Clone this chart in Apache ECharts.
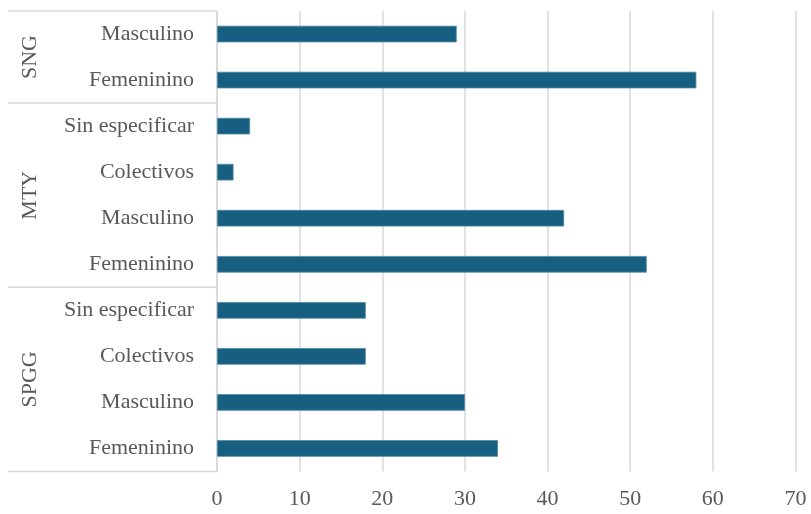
<!DOCTYPE html>
<html>
<head>
<meta charset="utf-8">
<script src="https://cdn.jsdelivr.net/npm/echarts@6/dist/echarts.min.js"></script>
<style>
html,body{margin:0;padding:0;background:#fff;}
#chart{width:811px;height:514px;}
</style>
</head>
<body>
<div id="chart"></div>
<script>
// Data (top to bottom)
const groups = ['SNG', 'MTY', 'SPGG'];
const groupCounts = [2, 4, 4];
const categories = [
  'Masculino', 'Femenino',
  'Sin especificar', 'Colectivos', 'Masculino', 'Femenino',
  'Sin especificar', 'Colectivos', 'Masculino', 'Femenino'
];
const categoryLabels = [
  'Masculino', 'Femeninino',
  'Sin especificar', 'Colectivos', 'Masculino', 'Femeninino',
  'Sin especificar', 'Colectivos', 'Masculino', 'Femeninino'
];
const values = [29, 58, 4, 2, 42, 52, 18, 18, 30, 34];
const xTicks = [0, 10, 20, 30, 40, 50, 60, 70];

const FONT = '"Liberation Serif", "DejaVu Serif", serif';
const TXT = '#595959';
const GRID = '#d9d9d9';

const chart = echarts.init(document.getElementById('chart'), null, {renderer: 'canvas'});
const catIdx = categories.map((c, i) => String(i));

chart.setOption({
  animation: false,
  backgroundColor: '#fff',
  grid: {left: 217, right: 15.5, top: 11, bottom: 42.5, containLabel: false},
  xAxis: {
    type: 'value', min: xTicks[0], max: xTicks[xTicks.length - 1], interval: 10,
    axisLine: {show: false}, axisTick: {show: false},
    splitLine: {show: true, lineStyle: {color: GRID, width: 1.5}},
    axisLabel: {color: TXT, fontFamily: FONT, fontSize: 22, margin: 17}
  },
  yAxis: {
    type: 'category', inverse: true, data: catIdx,
    axisLine: {show: true, lineStyle: {color: GRID, width: 1.5}},
    axisTick: {show: false},
    axisLabel: {
      color: TXT, fontFamily: FONT, fontSize: 22, margin: 23,
      formatter: v => categoryLabels[+v]
    }
  },
  series: [{
    type: 'bar', data: values, barWidth: '36%',
    itemStyle: {color: '#175f80', borderColor: '#4f87a3', borderWidth: 0.8}
  }]
});

// group labels and separators, positioned through the category axis scale
function drawGroups() {
  const p0 = chart.convertToPixel({yAxisIndex: 0}, '0');
  const p1 = chart.convertToPixel({yAxisIndex: 0}, '1');
  const band = p1 - p0;
  const xAxisLeft = chart.convertToPixel({xAxisIndex: 0}, 0);
  const elements = [];
  let start = 0;
  const boundaries = [p0 - band / 2];
  groups.forEach((g, gi) => {
    const n = groupCounts[gi];
    const top = chart.convertToPixel({yAxisIndex: 0}, String(start)) - band / 2;
    const bottom = chart.convertToPixel({yAxisIndex: 0}, String(start + n - 1)) + band / 2;
    boundaries.push(bottom);
    elements.push({
      type: 'text',
      x: 30, y: (top + bottom) / 2,
      rotation: Math.PI / 2,
      style: {
        text: g, fill: TXT, font: '22px ' + FONT,
        textAlign: 'center', textVerticalAlign: 'middle'
      }
    });
    start += n;
  });
  boundaries.forEach(y => {
    elements.push({
      type: 'line',
      shape: {x1: 8, y1: y, x2: xAxisLeft, y2: y},
      style: {stroke: GRID, lineWidth: 1.5}
    });
  });
  chart.setOption({graphic: elements});
}
drawGroups();
</script>
</body>
</html>
